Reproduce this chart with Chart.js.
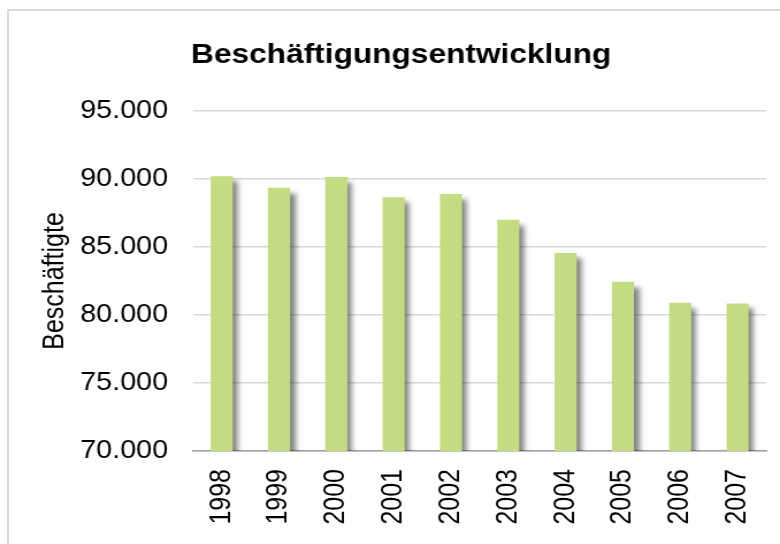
<!DOCTYPE html>
<html>
<head>
<meta charset="utf-8">
<script src="https://cdn.jsdelivr.net/npm/chart.js@4/dist/chart.umd.min.js"></script>
<style>
  html, body { margin: 0; padding: 0; background: #fff; overflow: hidden; }
  #wrap { position: relative; width: 780px; height: 544px; overflow: hidden; }
  #frame { position: absolute; left: 7px; top: 9px; width: 820px; height: 600px; border: 2px solid #d9d9d9; box-sizing: border-box; }
  canvas { position: absolute; left: 0; top: 0; }
</style>
</head>
<body>
<div id="wrap">
  <div id="frame"></div>
  <canvas id="c" width="678" height="544" style="width:780px;height:544px;"></canvas>
</div>
<script>
const years = ['1998', '1999', '2000', '2001', '2002', '2003', '2004', '2005', '2006', '2007'];
const employees = [90200, 89350, 90150, 88650, 88900, 87000, 84550, 82450, 80900, 80850];
const yMin = 70000;
const yMax = 95000;
const yStep = 5000;
const chartTitle = 'Beschäftigungsentwicklung';
const yTitle = 'Beschäftigte';

function fmt(v) {
  return String(v).replace(/\B(?=(\d{3})+(?!\d))/g, '.');
}

const shadowPlugin = {
  id: 'barShadow',
  beforeDatasetsDraw(chart) {
    const ctx = chart.ctx;
    ctx.save();
    ctx.shadowColor = 'rgba(0,0,0,0.5)';
    ctx.shadowBlur = 5;
    ctx.shadowOffsetX = 4.5;
    ctx.shadowOffsetY = 5;
  },
  afterDatasetsDraw(chart) {
    chart.ctx.restore();
  }
};

const FONT = 'Liberation Sans, Arial, sans-serif';

new Chart(document.getElementById('c'), {
  type: 'bar',
  data: {
    labels: years,
    datasets: [{
      data: employees,
      backgroundColor: '#c3db81',
      borderWidth: 0,
      barPercentage: 0.385,
      categoryPercentage: 1.0
    }]
  },
  plugins: [shadowPlugin],
  options: {
    responsive: false,
    animation: false,
    events: [],
    devicePixelRatio: 1,
    layout: { padding: { left: 31.4, right: 12, top: 0, bottom: 0 } },
    plugins: {
      legend: { display: false },
      tooltip: { enabled: false },
      title: {
        display: true,
        text: chartTitle,
        color: '#000',
        font: { family: FONT, size: 27.5, weight: 'bold', lineHeight: 1.2 },
        padding: { top: 38.5, bottom: 39.5 }
      }
    },
    scales: {
      x: {
        offset: true,
        grid: { display: false, drawTicks: false },
        border: { display: true, color: '#a0a0a0', width: 1.5 },
        ticks: {
          color: '#000',
          font: { family: FONT, size: 25 },
          minRotation: 90,
          maxRotation: 90,
          padding: 18,
          autoSkip: false
        },
        afterFit(s) { s.height = 93; s.paddingLeft = 0; s.paddingRight = 0; }
      },
      y: {
        min: yMin,
        max: yMax,
        grid: { color: '#d9d9d9', lineWidth: 1.5, drawTicks: false },
        border: { display: false },
        ticks: {
          stepSize: yStep,
          color: '#000',
          font: { family: FONT, size: 25 },
          padding: 21.7,
          callback: (v) => fmt(v)
        },
        title: {
          display: true,
          text: yTitle,
          color: '#000',
          font: { family: FONT, size: 25, lineHeight: 1.2 },
          padding: { top: 1.4, bottom: 0 }
        },
        afterFit(s) { s.width = 136.4; }
      }
    }
  }
});
</script>
</body>
</html>
